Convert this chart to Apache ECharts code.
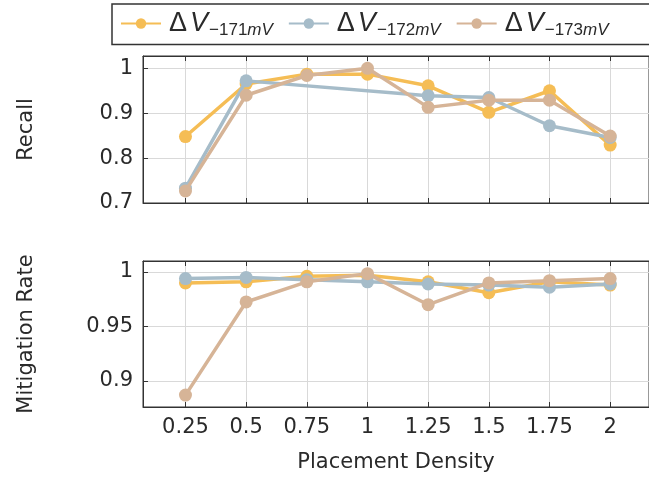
<!DOCTYPE html>
<html>
<head>
<meta charset="utf-8">
<script src="https://cdn.jsdelivr.net/npm/echarts@6/dist/echarts.min.js"></script>
<style>
  html, body { margin: 0; padding: 0; background: #fff; }
  #chart { width: 649px; height: 477px; }
</style>
</head>
<body>
<div id="chart"></div>
<script>
var density = [0.25, 0.5, 0.75, 1, 1.25, 1.5, 1.75, 2];
var seriesNames = ['−171', '−172', '−173'];
var seriesColors = ['#f5bd55', '#a6bcc9', '#d6b497'];

// Recall (top panel)
var recall171 = [0.848, 0.965, 0.987, 0.987, 0.961, 0.902, 0.950, 0.829];
var recall172 = [0.733, 0.972, null, null, 0.939, 0.935, 0.872, 0.846];
var recall173 = [0.727, 0.940, 0.984, 1.000, 0.913, 0.929, 0.929, 0.849];

// Mitigation rate (bottom panel)
var mit171 = [0.990, 0.991, 0.996, 0.997, 0.991, 0.981, 0.991, 0.988];
var mit172 = [0.994, 0.995, 0.993, 0.991, 0.989, 0.988, 0.986, 0.989];
var mit173 = [0.887, 0.9725, 0.991, 0.9985, 0.970, 0.990, 0.992, 0.994];

var recallTicks = [0.7, 0.8, 0.9, 1];
var mitTicks = [0.9, 0.95, 1];

var fontFam = 'DejaVu Sans';
var legendFont = 'Liberation Sans';
var axisColor = '#333';
var gridColor = '#d9d9d9';
var textColor = '#2a2a2a';

function pairs(vals) {
  return density.map(function (x, i) { return [x, vals[i]]; });
}

function makeSeries(name, idx, vals, xIdx, yIdx) {
  return {
    name: name,
    type: 'line',
    xAxisIndex: xIdx,
    yAxisIndex: yIdx,
    data: pairs(vals),
    connectNulls: true,
    symbol: 'circle',
    symbolSize: 13,
    lineStyle: { width: 3.5, color: seriesColors[idx] },
    itemStyle: { color: seriesColors[idx] },
    z: 2 + idx
  };
}

// bottom/top x axes for a grid (top one only draws ticks)
function xAxes(gridIdx, showLabels) {
  var base = {
    type: 'value',
    gridIndex: gridIdx,
    min: 0.075,
    max: 2.16,
    axisLine: { show: true, lineStyle: { color: axisColor, width: 1 } },
    axisTick: { show: true, inside: true, length: 5, customValues: density, lineStyle: { color: axisColor } },
    axisLabel: { show: showLabels, customValues: density, fontFamily: fontFam, fontSize: 21, color: textColor, margin: 10 },
    splitLine: { show: true, lineStyle: { color: gridColor, width: 1 } }
  };
  var top = {
    type: 'value',
    gridIndex: gridIdx,
    position: 'top',
    min: 0.075,
    max: 2.16,
    axisLine: { show: true, lineStyle: { color: axisColor, width: 1 } },
    axisTick: { show: true, inside: true, length: 5, customValues: density, lineStyle: { color: axisColor } },
    axisLabel: { show: false },
    splitLine: { show: false }
  };
  if (showLabels) {
    base.name = 'Placement Density';
    base.nameLocation = 'middle';
    base.nameGap = 45;
    base.nameTextStyle = { fontFamily: fontFam, fontSize: 21, color: textColor };
  }
  return [base, top];
}

function yAxis(gridIdx, name, min, max, ticks, gap) {
  return {
    type: 'value',
    gridIndex: gridIdx,
    min: min,
    max: max,
    name: name,
    nameLocation: 'middle',
    nameRotate: 90,
    nameGap: gap,
    nameTextStyle: { fontFamily: fontFam, fontSize: 21, color: textColor },
    axisLine: { show: true, lineStyle: { color: axisColor, width: 1 } },
    axisTick: { show: true, inside: true, length: 5, customValues: ticks, lineStyle: { color: axisColor } },
    axisLabel: {
      customValues: ticks, fontFamily: fontFam, fontSize: 21, color: textColor, margin: 10,
      formatter: function (v) { return String(+v.toFixed(2)); }
    },
    splitLine: { show: true, lineStyle: { color: gridColor, width: 1 } }
  };
}

var option = {
  animation: false,
  backgroundColor: '#fff',
  grid: [
    { left: 143, top: 56, right: -3, height: 147, show: true, borderColor: axisColor, borderWidth: 1, backgroundColor: 'transparent' },
    { left: 143, top: 261, right: -3, height: 146, show: true, borderColor: axisColor, borderWidth: 1, backgroundColor: 'transparent' }
  ],
  legend: {
    top: 4,
    left: 112,
    width: 620,
    padding: [6, 60, 6, 8],
    borderColor: axisColor,
    borderWidth: 1.5,
    itemGap: 15,
    itemWidth: 40,
    itemHeight: 13,
    data: seriesNames,
    formatter: function (name) {
      return '{d|Δ}{v|V}{s|' + name + '}{m|mV}';
    },
    textStyle: {
      fontFamily: legendFont,
      color: textColor,
      rich: {
        d: { fontSize: 27, fontFamily: legendFont, lineHeight: 30, verticalAlign: 'middle', padding: [0, 3, 0, 3] },
        v: { fontSize: 27, fontFamily: legendFont, fontStyle: 'italic', lineHeight: 30, verticalAlign: 'middle' },
        s: { fontSize: 17, fontFamily: legendFont, lineHeight: 30, verticalAlign: 'bottom', padding: [0, 0, 0, 1] },
        m: { fontSize: 17, fontFamily: legendFont, fontStyle: 'italic', lineHeight: 30, verticalAlign: 'bottom', padding: [0, 0, 0, 0] }
      }
    }
  },
  xAxis: xAxes(0, false).concat(xAxes(1, true)),
  yAxis: [
    yAxis(0, 'Recall', 0.7, 1.0274, recallTicks, 106),
    yAxis(1, 'Mitigation Rate', 0.8761, 1.0101, mitTicks, 106)
  ],
  series: [
    makeSeries(seriesNames[0], 0, recall171, 0, 0),
    makeSeries(seriesNames[1], 1, recall172, 0, 0),
    makeSeries(seriesNames[2], 2, recall173, 0, 0),
    makeSeries(seriesNames[0], 0, mit171, 2, 1),
    makeSeries(seriesNames[1], 1, mit172, 2, 1),
    makeSeries(seriesNames[2], 2, mit173, 2, 1)
  ]
};

var chart = echarts.init(document.getElementById('chart'), null, { renderer: 'canvas' });
chart.setOption(option);
</script>
</body>
</html>
